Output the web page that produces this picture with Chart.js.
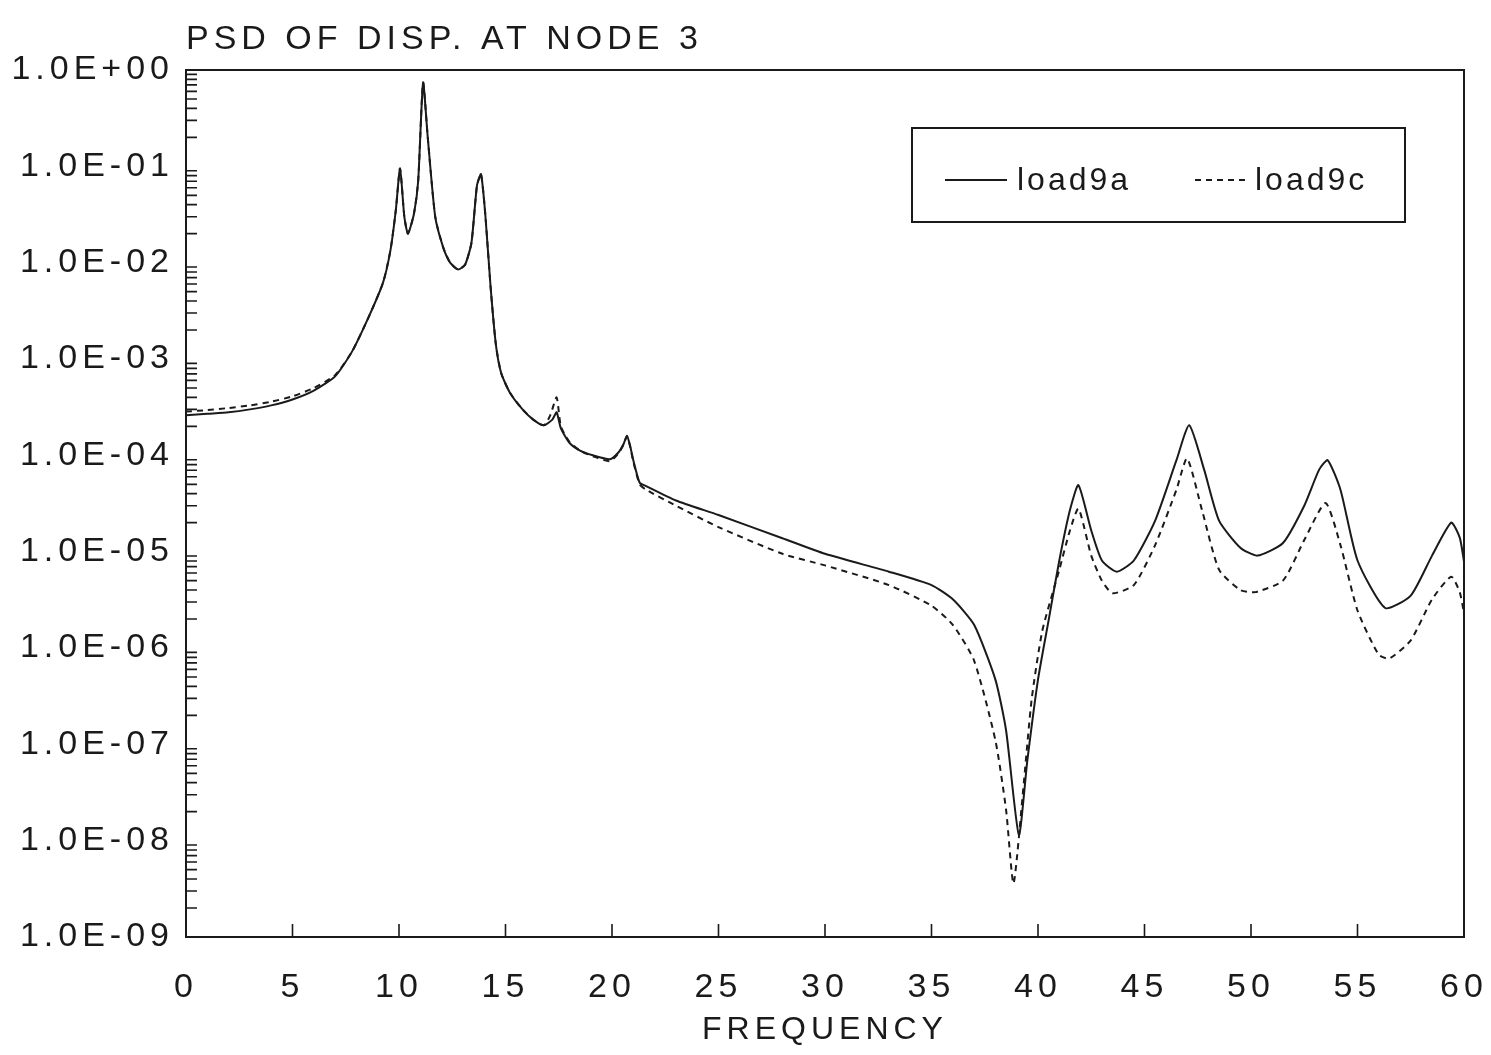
<!DOCTYPE html>
<html>
<head>
<meta charset="utf-8">
<script src="https://cdn.jsdelivr.net/npm/chart.js@4.4.1/dist/chart.umd.min.js"></script>
<style>
  html, body { margin: 0; padding: 0; background: #ffffff; }
  #wrap { width: 1491px; height: 1055px; }
</style>
</head>
<body>
<div id="wrap"><canvas id="c" width="1491" height="1055"></canvas></div>
<script>
// ---------- data ----------
const chartTitle = 'PSD OF DISP. AT NODE 3';
const xAxisTitle = 'FREQUENCY';
const seriesNames = ['load9a', 'load9c'];

const xTickValues = [0, 5, 10, 15, 20, 25, 30, 35, 40, 45, 50, 55, 60];
const yTickExponents = [-9, -8, -7, -6, -5, -4, -3, -2, -1, 0];
const yTickLabels = ['1.0E-09', '1.0E-08', '1.0E-07', '1.0E-06', '1.0E-05', '1.0E-04', '1.0E-03', '1.0E-02', '1.0E-01', '1.0E+00'];

const freqA = [0, 1, 2, 3, 4, 5, 6, 7, 7.8, 8.6, 9.25, 9.6, 9.85, 10.05, 10.25, 10.42, 10.7, 10.9, 11.13, 11.35, 11.7, 12.07, 12.4, 12.77, 13.1, 13.4, 13.66, 13.85, 14.05, 14.3, 14.55, 14.8, 15.2, 15.8, 16.3, 16.8, 17.2, 17.4, 17.6, 18.0, 18.5, 19.1, 19.9, 20.3, 20.55, 20.7, 20.85, 21.0, 21.3, 21.6, 23, 25, 28, 30, 33, 35, 36, 37, 38, 38.5, 39.1, 39.5, 40, 40.5, 41, 41.5, 41.9, 42.5, 43, 43.7, 44.5, 45.5, 46.5, 47.1, 47.8, 48.5, 49.5, 50.3, 51.5, 52.5, 53.2, 53.6, 54.2, 55, 56.3, 57.5, 58.5, 59.4, 59.8, 60];
const psdA = [2.6e-4, 2.7e-4, 2.8e-4, 3.0e-4, 3.3e-4, 3.8e-4, 4.7e-4, 6.6e-4, 1.2e-3, 2.8e-3, 6.2e-3, 1.35e-2, 3.5e-2, 9.5e-2, 3.0e-2, 2.0e-2, 3.2e-2, 7.0e-2, 0.74, 0.2, 3.0e-2, 1.45e-2, 1.0e-2, 8.5e-3, 9.5e-3, 1.6e-2, 6.3e-2, 8.3e-2, 3.2e-2, 5.6e-3, 1.4e-3, 7.1e-4, 4.5e-4, 3.0e-4, 2.35e-4, 2.05e-4, 2.35e-4, 2.8e-4, 1.9e-4, 1.35e-4, 1.12e-4, 1.0e-4, 9.1e-5, 1.07e-4, 1.32e-4, 1.6e-4, 1.26e-4, 8.9e-5, 5.2e-5, 4.8e-5, 3.4e-5, 2.4e-5, 1.38e-5, 9.5e-6, 6.2e-6, 4.5e-6, 3.2e-6, 1.74e-6, 4.7e-7, 1.4e-7, 1.15e-8, 6.8e-8, 4.7e-7, 1.95e-6, 8.1e-6, 2.7e-5, 4.9e-5, 1.66e-5, 8.1e-6, 6.2e-6, 8.1e-6, 2.1e-5, 8.9e-5, 2.05e-4, 7.1e-5, 2.1e-5, 1.1e-5, 9.1e-6, 1.23e-5, 3.0e-5, 7.1e-5, 8.9e-5, 4.4e-5, 8.1e-6, 2.6e-6, 3.5e-6, 9.1e-6, 2.0e-5, 1.4e-5, 7.9e-6];

const freqC = [0, 1, 2, 3, 4, 5, 6, 7, 7.8, 8.6, 9.25, 9.6, 9.85, 10.05, 10.25, 10.42, 10.7, 10.9, 11.13, 11.35, 11.7, 12.07, 12.4, 12.77, 13.1, 13.4, 13.66, 13.85, 14.05, 14.3, 14.55, 14.8, 15.2, 15.8, 16.3, 16.8, 17.1, 17.4, 17.6, 18.0, 18.5, 19.1, 19.9, 20.3, 20.55, 20.7, 20.85, 21.0, 21.3, 21.6, 23, 25, 28, 30, 33, 35, 36, 37, 38, 38.5, 38.85, 39.3, 39.7, 40.2, 41, 41.5, 41.9, 42.5, 43, 43.5, 44.5, 45.5, 46.5, 47.0, 47.7, 48.5, 49.5, 50.2, 51.5, 52.5, 53.5, 54.2, 55, 56, 56.5, 57.5, 58.5, 59.4, 59.8, 60];
const psdC = [2.85e-4, 2.95e-4, 3.1e-4, 3.3e-4, 3.6e-4, 4.1e-4, 5.0e-4, 6.8e-4, 1.2e-3, 2.8e-3, 6.2e-3, 1.35e-2, 3.5e-2, 9.5e-2, 3.0e-2, 2.0e-2, 3.2e-2, 7.0e-2, 0.74, 0.2, 3.0e-2, 1.45e-2, 1.0e-2, 8.5e-3, 9.5e-3, 1.6e-2, 6.3e-2, 8.3e-2, 3.2e-2, 5.6e-3, 1.4e-3, 7.1e-4, 4.5e-4, 3.0e-4, 2.35e-4, 2.05e-4, 2.6e-4, 4.0e-4, 2.0e-4, 1.38e-4, 1.12e-4, 9.8e-5, 8.7e-5, 1.05e-4, 1.3e-4, 1.58e-4, 1.24e-4, 8.6e-5, 5.0e-5, 4.4e-5, 3.0e-5, 1.8e-5, 9.5e-6, 7.2e-6, 4.5e-6, 2.75e-6, 1.74e-6, 7.4e-7, 1.1e-7, 2.1e-8, 3.6e-9, 3.3e-8, 2.9e-7, 1.5e-6, 6.5e-6, 1.66e-5, 2.8e-5, 9.1e-6, 5.0e-6, 3.7e-6, 4.5e-6, 1.17e-5, 4.4e-5, 9.3e-5, 2.7e-5, 6.5e-6, 4.0e-6, 3.8e-6, 5.0e-6, 1.32e-5, 3.2e-5, 1.17e-5, 2.45e-6, 8.5e-7, 7.8e-7, 1.2e-6, 3.2e-6, 5.5e-6, 3.8e-6, 2.3e-6];

// ---------- styles ----------
const INK = '#1a1a1a';
const FONT = '"Liberation Sans", Arial, sans-serif';
const SPACING = '5px';

const toPoints = (xs, ys) => xs.map((x, i) => ({ x: x, y: ys[i] }));

const framePlugin = {
  id: 'frame',
  beforeDraw(chart) {
    chart.ctx.letterSpacing = SPACING;
  },
  afterDraw(chart) {
    const ctx = chart.ctx;
    const a = chart.chartArea;
    const xs = chart.scales.x;
    const ys = chart.scales.y;
    ctx.save();
    ctx.strokeStyle = INK;
    ctx.lineWidth = 2;
    ctx.strokeRect(a.left, a.top, a.right - a.left, a.bottom - a.top);
    ctx.lineWidth = 1.6;
    ctx.beginPath();
    for (let e = yTickExponents[0]; e < yTickExponents[yTickExponents.length - 1]; e++) {
      for (let m = 2; m <= 9; m++) {
        const py = ys.getPixelForValue(m * Math.pow(10, e));
        ctx.moveTo(a.left, py);
        ctx.lineTo(a.left + 11, py);
      }
    }
    xTickValues.forEach(v => {
      if (v === xs.min || v === xs.max) return;
      const px = xs.getPixelForValue(v);
      ctx.moveTo(px, a.bottom);
      ctx.lineTo(px, a.bottom - 13);
    });
    ctx.stroke();

    // title
    ctx.letterSpacing = SPACING;
    ctx.fillStyle = INK;
    ctx.font = '34px ' + FONT;
    ctx.textAlign = 'left';
    ctx.textBaseline = 'middle';
    ctx.fillText(chartTitle, a.left, 40);

    // legend box
    const bx = 912, by = 128, bw = 493, bh = 94;
    ctx.lineWidth = 2;
    ctx.strokeRect(bx, by, bw, bh);
    const ly = 180;
    const items = [
      { sx: 945, ex: 1007, tx: 1017 },
      { sx: 1195, ex: 1247, tx: 1255 }
    ];
    chart.data.datasets.forEach((d, i) => {
      const it = items[i];
      ctx.save();
      ctx.strokeStyle = d.borderColor;
      ctx.lineWidth = 2;
      ctx.setLineDash(d.borderDash || []);
      ctx.beginPath();
      ctx.moveTo(it.sx, ly);
      ctx.lineTo(it.ex, ly);
      ctx.stroke();
      ctx.restore();
      ctx.letterSpacing = '3px';
      ctx.fillStyle = INK;
      ctx.font = '32px ' + FONT;
      ctx.textBaseline = 'middle';
      ctx.fillText(d.label, it.tx, ly + 1);
    });
    ctx.restore();
  }
};

new Chart(document.getElementById('c'), {
  type: 'line',
  data: {
    datasets: [
      {
        label: seriesNames[0],
        data: toPoints(freqA, psdA),
        borderColor: INK,
        borderWidth: 2,
        pointRadius: 0,
        fill: false,
        tension: 0.2
      },
      {
        label: seriesNames[1],
        data: toPoints(freqC, psdC),
        borderColor: INK,
        borderWidth: 2,
        borderDash: [6, 5],
        pointRadius: 0,
        fill: false,
        tension: 0.2
      }
    ]
  },
  options: {
    responsive: false,
    animation: false,
    layout: { padding: { top: 70, right: 27, left: 0, bottom: 0 } },
    plugins: {
      legend: { display: false },
      title: { display: false },
      tooltip: { enabled: false }
    },
    scales: {
      x: {
        type: 'linear',
        min: 0,
        max: 60,
        grid: { display: false },
        border: { display: false },
        afterBuildTicks(scale) { scale.ticks = xTickValues.map(v => ({ value: v })); },
        afterFit(scale) {
          scale.height = 118;
          scale.paddingLeft = 0;
          scale.paddingRight = 0;
        },
        ticks: {
          color: INK,
          font: { family: FONT, size: 34 },
          padding: 22,
          maxRotation: 0,
          autoSkip: false
        },
        title: {
          display: true,
          text: xAxisTitle,
          color: INK,
          font: { family: FONT, size: 32 },
          padding: { top: 0, bottom: 6 }
        }
      },
      y: {
        type: 'logarithmic',
        min: 1e-9,
        max: 1,
        grid: { display: false },
        border: { display: false },
        afterBuildTicks(scale) { scale.ticks = yTickExponents.map(e => ({ value: Math.pow(10, e) })); },
        afterFit(scale) {
          scale.width = 186;
          scale.paddingTop = 0;
          scale.paddingBottom = 0;
        },
        ticks: {
          color: INK,
          font: { family: FONT, size: 34 },
          padding: 4,
          autoSkip: false,
          callback: (value, index) => yTickLabels[index]
        }
      }
    }
  },
  plugins: [framePlugin]
});
</script>
</body>
</html>
